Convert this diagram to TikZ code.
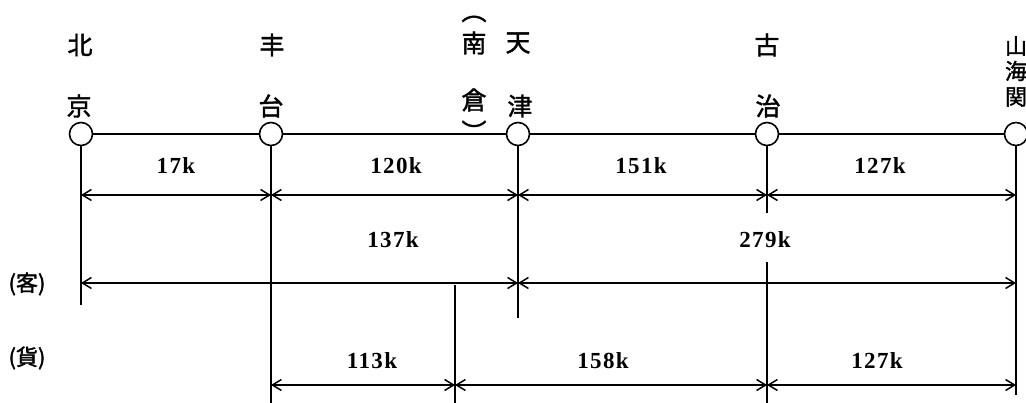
\documentclass[tikz,border=0pt]{standalone}
\usepackage{fontspec}
\setmainfont{Liberation Serif}
\newfontfamily\cjk[FakeBold=1.6]{Noto Sans CJK JP}
\newfontfamily\numfont[LetterSpace=6]{Liberation Serif}
\usetikzlibrary{arrows.meta}
\begin{document}
\begin{tikzpicture}[x=1pt,y=-1pt,
  station/.style={circle,draw,line width=1.6pt,fill=white,minimum size=23pt,inner sep=0pt},
  kanji/.style={font=\cjk\fontsize{25}{25}\selectfont,inner sep=0pt},
  kanjis/.style={font=\cjk\fontsize{22}{22}\selectfont,inner sep=0pt},
  dist/.style={font=\numfont\bfseries\fontsize{23}{23}\selectfont,inner sep=0pt},
  vline/.style={line width=1.7pt},
  dim/.style={line width=1.5pt,{Straight Barb[length=9pt,width=11pt]}-{Straight Barb[length=9pt,width=11pt]}},
]
\useasboundingbox (0,0) rectangle (1026,403);

% stations
\node[station] (bj) at (81,134) {};
\node[station] (ft) at (271,134) {};
\node[station] (tj) at (518,134) {};
\node[station] (gz) at (767,134) {};
\node[station] (shg) at (1016,134) {};
\draw[line width=2.4pt] (bj) -- (ft) -- (tj) -- (gz) -- (shg);

% station names
\node[kanji] (n1) at (80,45) {北};
\node[kanji] (n2) at (79,106) {京};
\node[kanji] (n3) at (272,45) {丰};
\node[kanji] (n4) at (271,106) {台};
\node[kanji] (n5) at (474,19) {︵};
\node[kanji] (n6) at (474,43) {南};
\node[kanji] (n7) at (474,100) {倉};
\node[kanji] (n8) at (474,131) {︶};
\node[kanji] (n9) at (518,43) {天};
\node[kanji] (n10) at (520,106) {津};
\node[kanji] (n11) at (767,45) {古};
\node[kanji] (n12) at (768,106) {治};
\node[kanjis] (n13) at (1016,46) {山};
\node[kanjis] (n14) at (1016,71) {海};
\node[kanjis] (n15) at (1016,97) {関};
\node[kanjis] (ke) at (27,284) {(客)};
\node[kanjis] (huo) at (27,358) {(貨)};

% vertical lines
\coordinate (bjB) at (81,305);
\coordinate (ftB) at (271,403);
\coordinate (tjB) at (518,318);
\coordinate (gzA) at (767,213);
\coordinate (gzC) at (767,262);
\coordinate (gzB) at (767,403);
\coordinate (shgB) at (1016,395);
\coordinate (mA) at (455,285);
\coordinate (mB) at (455,403);
\draw[vline] (bj) -- (bjB);
\draw[vline] (ft) -- (ftB);
\draw[vline] (tj) -- (tjB);
\draw[vline] (gz) -- (gzA);
\draw[vline] (gzC) -- (gzB);
\draw[vline] (shg) -- (shgB);
\draw[vline] (mA) -- (mB);

% row 1
\coordinate (r1a) at (81,195);
\coordinate (r1b) at (271,195);
\coordinate (r1c) at (518,195);
\coordinate (r1d) at (767,195);
\coordinate (r1e) at (1016,195);
\draw[dim] (r1a) -- (r1b);
\draw[dim] (r1b) -- (r1c);
\draw[dim] (r1c) -- (r1d);
\draw[dim] (r1d) -- (r1e);
\node[dist] (d1) at (176,166) {17k};
\node[dist] (d2) at (396,166) {120k};
\node[dist] (d3) at (641,166) {151k};
\node[dist] (d4) at (880,166) {127k};

% row 2
\coordinate (r2a) at (81,283);
\coordinate (r2c) at (518,283);
\coordinate (r2e) at (1016,283);
\draw[dim] (r2a) -- (r2c);
\draw[dim] (r2c) -- (r2e);
\node[dist] (d5) at (393,240) {137k};
\node[dist] (d6) at (765,240) {279k};

% row 3
\coordinate (r3b) at (271,385);
\coordinate (r3m) at (455,385);
\coordinate (r3d) at (767,385);
\coordinate (r3e) at (1016,385);
\draw[dim] (r3b) -- (r3m);
\draw[dim] (r3m) -- (r3d);
\draw[dim] (r3d) -- (r3e);
\node[dist] (d7) at (372,361) {113k};
\node[dist] (d8) at (603,361) {158k};
\node[dist] (d9) at (877,361) {127k};
\end{tikzpicture}
\end{document}
